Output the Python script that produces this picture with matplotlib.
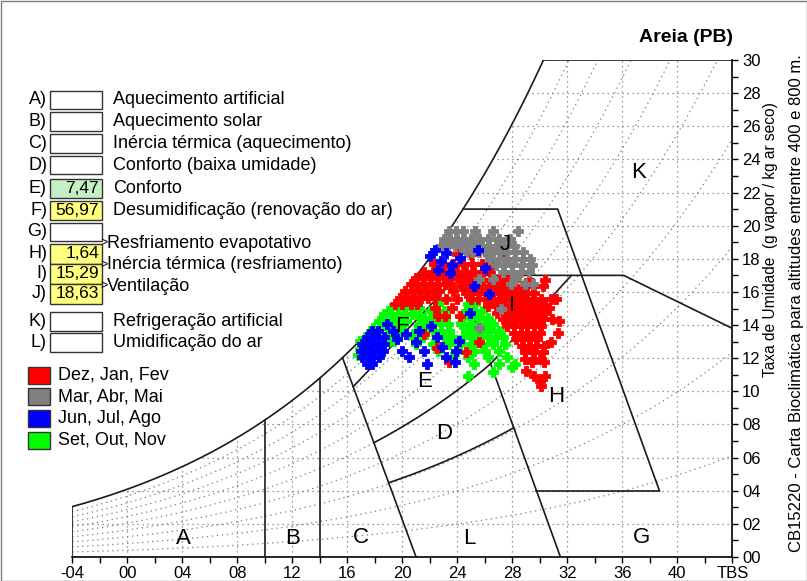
import numpy as np
import matplotlib.pyplot as plt
from matplotlib.patches import Polygon, Rectangle

plt.rcParams['font.family'] = ['Liberation Sans', 'DejaVu Sans']

# ---- data ----
x_labels = ['-04', '00', '04', '08', '12', '16', '20', '24', '28', '32', '36', '40', 'TBS']
y_labels = ['00', '02', '04', '06', '08', '10', '12', '14', '16', '18', '20', '22', '24', '26', '28', '30']

zone_keys = ['A)', 'B)', 'C)', 'D)', 'E)', 'F)', 'G)', 'H)', 'I)', 'J)', 'K)', 'L)']
zone_names = ['Aquecimento artificial', 'Aquecimento solar', 'Inércia térmica (aquecimento)',
              'Conforto (baixa umidade)', 'Conforto', 'Desumidificação (renovação do ar)',
              '', '', '', '', 'Refrigeração artificial', 'Umidificação do ar']
zone_values = ['', '', '', '', '7,47', '56,97', '', '1,64', '15,29', '18,63', '', '']
arrow_names = ['Resfriamento evapotativo', 'Inércia térmica (resfriamento)', 'Ventilação']

season_names = ['Dez, Jan, Fev', 'Mar, Abr, Mai', 'Jun, Jul, Ago', 'Set, Out, Nov']
season_colors = ['#ff0000', '#808080', '#0000ff', '#00ff00']

# zone letters on the chart (T, w)
zone_letters = ['A', 'B', 'C', 'L', 'G', 'D', 'E', 'H', 'F', 'I', 'J', 'K']
zone_letter_t = [4.1, 12.0, 17.0, 24.9, 37.4, 23.05, 21.6, 31.2, 20.0, 28.0, 27.5, 37.2]
zone_letter_w = [1.1, 1.1, 1.2, 1.1, 1.2, 7.45, 10.6, 9.7, 13.9, 15.2, 18.85, 23.2]

# hourly points (w g/kg, dry bulb temperatures) estimated row by row
dez_rows = [
    (19.15, [27.0]), (18.95, [25.6]),
    (18.3, [24.0, 25.0, 26.2, 27.4]),
    (17.7, [22.3, 23.0, 23.7, 24.4, 25.1, 25.8, 26.5]),
    (17.2, [21.6, 22.2, 22.8, 23.4, 24.0, 24.6, 25.2, 25.8, 26.4]),
    (16.85, [21.0, 21.5, 22.0, 22.5, 23.0, 23.5, 23.95]),
    (16.75, [24.4, 24.9, 25.4, 25.9, 26.4, 27.0, 27.6, 28.3, 29.2, 30.4]),
    (16.45, [20.6, 21.1, 21.6, 22.1, 22.6, 23.1, 23.5]),
    (16.35, [24.3, 24.8, 25.3, 25.8, 26.3, 26.8, 27.3, 27.8, 28.3, 28.8, 29.5, 30.2]),
    (16.05, [20.2, 20.7, 21.2, 21.7, 22.2, 22.7, 23.7]),
    (15.95, [24.6, 25.1, 25.6, 26.1, 26.6, 27.1, 27.6, 28.1, 28.6, 29.1, 29.6]),
    (15.65, [19.85, 20.35, 20.85, 21.35, 21.85, 22.4]),
    (15.55, [23.2, 24.0, 25.0, 25.5, 26.0, 26.5, 27.0, 27.5, 28.0, 28.5, 29.0, 29.5, 30.1, 30.8, 31.2]),
    (15.25, [19.5, 20.0, 20.6, 21.1]),
    (15.15, [26.2, 26.8, 27.3, 27.8, 28.3, 28.8, 29.3, 29.8, 30.4]),
    (15.05, [22.4, 23.6, 30.7]),
    (14.75, [26.9, 27.5, 28.0, 28.5, 29.0, 29.5, 30.0, 30.4]),
    (14.55, [22.6, 23.1, 24.2]),
    (14.35, [27.3, 27.8, 28.3, 28.8, 29.3, 29.8, 30.2, 30.9]),
    (14.25, [31.4]),
    (13.95, [27.6, 28.1, 28.6, 29.1, 29.6, 30.1]),
    (13.55, [28.1, 28.6, 29.1, 29.6, 30.0, 31.3]),
    (13.45, [21.6]),
    (13.15, [28.3, 28.8, 29.3, 29.8]),
    (12.95, [25.6, 30.8]),
    (12.75, [28.7, 29.2, 29.7, 30.3]),
    (12.6, [22.5]),
    (12.35, [24.6, 28.9, 29.6, 30.2]),
    (11.95, [28.9, 29.5, 30.0]),
    (11.8, [23.4, 29.4, 30.3]),
    (11.2, [29.0]),
    (10.9, [29.6, 30.4]),
    (10.6, [30.0]),
    (10.35, [30.1]),
]

mar_rows = [
    (19.65, [23.4, 23.9, 24.4, 25.3, 26.6, 28.4]),
    (19.2, [23.0, 23.5, 24.0, 24.5, 25.0, 25.6, 26.2, 27.0, 27.8]),
    (18.8, [22.8, 23.3, 23.8, 24.3, 24.8, 25.3, 25.8, 26.3, 26.8, 27.4, 28.1]),
    (18.4, [24.6, 25.1, 25.6, 26.1, 26.6, 27.1, 27.6, 28.2, 28.8]),
    (18.0, [26.4, 27.0, 27.6, 28.2, 28.8, 29.3]),
    (17.6, [26.8, 27.4, 28.0, 28.7, 29.4]),
    (17.2, [27.3, 28.0, 28.6, 29.2]),
    (16.8, [25.6, 26.6, 28.3]),
    (16.5, [27.9, 28.9, 29.5]),
    (14.95, [27.2]),
    (13.85, [25.6]),
]

jun_rows = [
    (18.55, [22.4, 25.5]),
    (18.35, [23.2]),
    (18.15, [22.0]),
    (18.05, [24.2]),
    (17.85, [22.8]),
    (17.65, [23.6]),
    (17.45, [26.0]),
    (17.35, [22.6]),
    (17.15, [23.5]),
    (16.35, [25.2]),
    (15.85, [26.3]),
    (14.7, [24.9]),
    (14.05, [18.9]),
    (13.95, [22.1]),
    (13.65, [17.8, 18.2, 19.3, 21.2]),
    (13.45, [20.3]),
    (13.25, [17.45, 17.85, 18.25, 18.65, 22.5]),
    (13.15, [19.6]),
    (13.05, [24.1]),
    (12.95, [21.0]),
    (12.85, [17.1, 17.5, 17.9, 18.3, 18.7]),
    (12.65, [22.9]),
    (12.45, [17.0, 17.4, 17.8, 18.2, 18.6, 20.0, 21.6, 23.9]),
    (12.05, [17.1, 17.5, 17.9, 18.3, 20.5, 23.2]),
    (11.75, [23.8]),
    (11.65, [17.4, 17.8, 21.8]),
]

set_rows = [
    (18.35, [25.1]),
    (16.45, [26.9]),
    (16.05, [27.5]),
    (15.65, [28.8]),
    (15.25, [22.6, 24.8, 25.3]),
    (15.05, [19.2, 19.7, 20.2, 20.7, 21.2]),
    (14.85, [22.0, 22.5, 23.0, 24.6, 25.2, 25.8]),
    (14.65, [18.7, 19.2, 19.7, 20.2, 20.7, 21.1]),
    (14.45, [21.6, 22.1, 22.6, 23.1, 24.4, 25.0, 25.6, 26.2]),
    (14.25, [18.3, 18.8, 19.3, 19.8, 20.3]),
    (14.05, [21.2, 21.8, 22.3, 22.8, 23.3, 24.3, 24.9, 25.5, 26.0, 26.6]),
    (13.85, [17.9, 18.4, 18.9, 19.4, 19.9]),
    (13.65, [21.0, 21.6, 22.2, 22.8, 23.4, 24.6, 25.2, 25.8, 26.4, 27.0]),
    (13.45, [17.5, 18.9, 19.4, 19.8]),
    (13.25, [20.8, 21.5, 23.0, 23.6, 24.4, 25.0, 25.6, 26.2, 26.8, 27.3]),
    (13.05, [16.9, 19.0, 19.4]),
    (12.85, [21.0, 22.2, 23.4, 24.2, 25.0, 25.8, 26.6, 27.5]),
    (12.55, [16.9]),
    (12.45, [22.6, 24.0, 25.2, 26.0, 27.0]),
    (12.2, [16.8]),
    (12.05, [23.6, 24.8, 26.2, 27.6]),
    (11.65, [25.2, 27.0, 28.2]),
    (11.45, [28.0]),
    (11.15, [26.6]),
    (10.95, [24.8]),
]

P_ATM = 93.5  # kPa, altitude between 400 and 800 m


def w_of(t, rh=1.0):
    pws = 0.61094 * np.exp(17.625 * t / (t + 243.04))
    pv = rh * pws
    return 622.0 * pv / (P_ATM - pv)


def t_sat(w):
    ts = np.linspace(-4, 44, 4000)
    return np.interp(w, w_of(ts), ts)


def meet(rh, p0, p1):
    # T where an RH curve crosses the straight line p0-p1
    ts = np.linspace(10, 40, 6001)
    ws = w_of(ts, rh)
    tl = p0[0] + (ws - p0[1]) * (p1[0] - p0[0]) / (p1[1] - p0[1])
    return ts[np.argmin(np.abs(tl - ts))]


def flat(rows):
    t = [x for w, ts in rows for x in ts]
    w = [w for w, ts in rows for x in ts]
    return t, w


W, H = 807, 581
fig = plt.figure(figsize=(W / 100, H / 100), dpi=100)
ax = fig.add_axes([72.3 / W, (H - 557) / H, (732.3 - 72.3) / W, (557 - 60) / H])
ax.set_xlim(-4, 44)
ax.set_ylim(0, 30)
ax.patch.set_visible(False)

# envelope under the saturation curve, used to clip the grid
t_all = np.linspace(-4, 44, 600)
env = Polygon(np.column_stack([np.r_[t_all, 44, -4], np.r_[np.minimum(w_of(t_all), 30), 0, 0]]),
              closed=True, transform=ax.transData, fc='none', ec='none')

dots = dict(color='#7a7a7a', lw=0.9, ls=(0, (1, 3)), zorder=1)
for w in range(2, 30, 2):
    ln, = ax.plot([-4, 44], [w, w], **dots)
    ln.set_clip_path(env)
for t in range(0, 44, 4):
    ln, = ax.plot([t, t], [0, 30], **dots)
    ln.set_clip_path(env)
for rh in np.arange(0.1, 0.95, 0.1):
    ln, = ax.plot(t_all, w_of(t_all, rh), **dots)
    ln.set_clip_path(env)

# zone boundaries
k = dict(color='#1a1a1a', lw=1.2, zorder=3)
t30 = t_sat(30)
ts = np.linspace(-4, t30, 300)
ax.plot(ts, w_of(ts), **k)
ax.plot([t30, 44], [30, 30], **k)
ax.plot([-4, -4], [0, w_of(-4)], **k)
ax.plot([10, 10], [0, w_of(10)], **k)
ax.plot([14, 14], [0, w_of(14)], **k)

c_top = (15.65, float(w_of(15.65)))
c_bot = (21.0, 0.0)
ax.plot([c_top[0], c_bot[0]], [c_top[1], c_bot[1]], **k)
ef_w = 10.28
ef_t = c_top[0] + (c_top[1] - ef_w) / c_top[1] * (c_bot[0] - c_top[0])
ax.plot([ef_t, 24.1], [ef_w, 17.0], **k)
r_top = (24.1, 17.0)
r_bot = (31.5, 0.0)
ax.plot([r_top[0], r_bot[0]], [r_top[1], r_bot[1]], **k)

for rh in (0.5, 0.305):
    t0 = meet(rh, c_top, c_bot)
    t1 = meet(rh, r_top, r_bot)
    tt = np.linspace(t0, t1, 100)
    ax.plot(tt, w_of(tt, rh), **k)
    if rh == 0.5:
        ax.plot([t1, 32.3], [w_of(t1, rh), 17.0], **k)

ax.plot([t_sat(17), 36.1, 44], [17, 17, 13.8], **k)
ax.plot([t_sat(21), 31.3, 38.7], [21, 21, 4.0], **k)
g_t = r_top[0] + (r_top[1] - 4.0) / r_top[1] * (r_bot[0] - r_top[0])
ax.plot([g_t, 38.7], [4.0, 4.0], **k)

for s, x, y in zip(zone_letters, zone_letter_t, zone_letter_w):
    ax.text(x, y, s, fontsize=16, ha='center', va='center', zorder=6)

# hourly data: spring first, then summer, autumn and winter on top
for rows, c in zip([set_rows, dez_rows, mar_rows, jun_rows],
                   [season_colors[3], season_colors[0], season_colors[1], season_colors[2]]):
    t, w = flat(rows)
    ax.plot(t, w, ls='none', marker='P', ms=7.5, mec=c, mew=0.6, mfc=c, zorder=4)

# axes
for s in ['left', 'top']:
    ax.spines[s].set_visible(False)
ax.spines['right'].set_linewidth(1.2)
ax.spines['bottom'].set_linewidth(1.2)
ax.set_xticks(np.arange(-4, 45, 4))
ax.set_xticklabels(x_labels)
ax.set_xticks(np.arange(-2, 44, 4), minor=True)
ax.yaxis.tick_right()
ax.set_yticks(np.arange(0, 31, 2))
ax.set_yticklabels(y_labels)
ax.set_yticks(np.arange(1, 30, 2), minor=True)
ax.tick_params(axis='both', which='both', direction='out', length=4.5, width=1, labelsize=12)
ax.tick_params(axis='x', pad=2)
ax.tick_params(axis='y', pad=2.5)

# ---- texts and legend in pixel positions ----
def fx(x):
    return x / W


def fy(y):
    return 1 - y / H


fig.text(fx(686), fy(37), 'Areia (PB)', fontsize=14, fontweight='bold', ha='center', va='center')
fig.text(fx(770), fy(240), 'Taxa de Umidade  (g vapor / kg ar seco)', fontsize=11.2,
         rotation=90, ha='center', va='center')
fig.text(fx(797), fy(303), 'CB15220 - Carta Bioclimática para altitudes entrentre 400 e 800 m.',
         fontsize=12, rotation=90, ha='center', va='center')

row_y = [100, 121.7, 143.4, 165.1, 188.5, 210.3, 232, 254, 274, 294, 321, 342.5]
row_h = [18.5] * 7 + [20, 20, 20] + [19, 19]
box_fc = ['white'] * 4 + ['#c4f0c4', '#ffff80', 'white', '#ffff80', '#ffff80', '#ffff80', 'white', 'white']
for i, key in enumerate(zone_keys):
    y = row_y[i]
    fig.text(fx(47), fy(y), key, fontsize=13, ha='right', va='center')
    fig.add_artist(Rectangle((fx(50), fy(y + row_h[i] / 2)), 52 / W, row_h[i] / H,
                             transform=fig.transFigure, fc=box_fc[i], ec='#333333', lw=1))
    if zone_values[i]:
        fig.text(fx(99), fy(y), zone_values[i], fontsize=12.5, ha='right', va='center')
    if zone_names[i]:
        fig.text(fx(113), fy(y), zone_names[i], fontsize=13, ha='left', va='center')

for y, name in zip([243, 264.5, 286], arrow_names):
    fig.text(fx(104), fy(y), '>', fontsize=9, ha='center', va='center')
    fig.text(fx(107), fy(y), name, fontsize=13, ha='left', va='center')

for i, (name, c) in enumerate(zip(season_names, season_colors)):
    y = 375 + 21.7 * i
    fig.add_artist(Rectangle((fx(27.5), fy(y + 8.5)), 22 / W, 17 / H,
                             transform=fig.transFigure, fc=c, ec='#333333', lw=1))
    fig.text(fx(58), fy(y), name, fontsize=13, ha='left', va='center')

fig.add_artist(Rectangle((0.5 / W, 0.5 / H), 1 - 1 / W, 1 - 1 / H, transform=fig.transFigure,
                         fill=False, ec='#7f7f7f', lw=1))

fig.savefig('out.png', dpi=100)
